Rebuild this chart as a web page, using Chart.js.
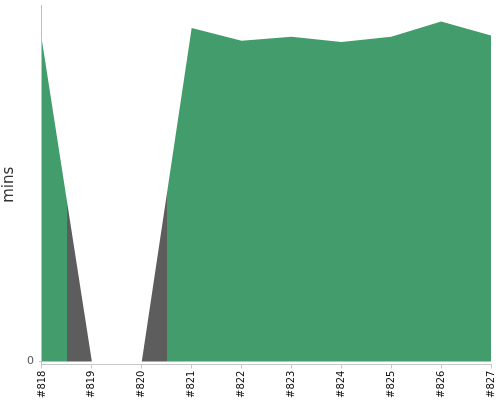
<!DOCTYPE html>
<html>
<head>
<meta charset="utf-8">
<script src="https://cdn.jsdelivr.net/npm/chart.js@4/dist/chart.umd.min.js"></script>
<style>
    html, body { margin: 0; padding: 0; background: #fff; }
    #wrap { width: 500px; height: 400px; position: relative; }
</style>
</head>
<body>
<div id="wrap"><canvas id="buildChart"></canvas></div>
<script>
// build numbers on the x axis
const builds = ['#818', '#819', '#820', '#821', '#822', '#823', '#824', '#825', '#826', '#827'];
// build duration in minutes
const durations = [12.6, 0, 0, 13.1, 12.6, 12.75, 12.55, 12.75, 13.35, 12.8];
// build result, colours the area around each point
const results = ['passed', 'failed', 'failed', 'passed', 'passed', 'passed', 'passed', 'passed', 'passed', 'passed'];
const yTicks = [0];

const colors = {
    passed: '#439c6c',
    failed: '#5d5d5d'
};

// horizontal gradient with hard stops, half way between builds
function areaFill(context) {
    const chart = context.chart;
    const area = chart.chartArea;
    const x = chart.scales.x;
    if (!area || !x) return colors.passed;
    const width = area.right - area.left;
    const grad = chart.ctx.createLinearGradient(area.left, 0, area.right, 0);
    const offset = (px) => Math.min(Math.max((px - area.left) / width, 0), 1);
    let last = 0;
    grad.addColorStop(0, colors[results[0]]);
    for (let i = 0; i < results.length - 1; i++) {
        const mid = (x.getPixelForValue(i) + x.getPixelForValue(i + 1)) / 2;
        const o = Math.max(offset(mid), last);
        grad.addColorStop(o, colors[results[i]]);
        grad.addColorStop(o, colors[results[i + 1]]);
        last = o;
    }
    grad.addColorStop(1, colors[results[results.length - 1]]);
    return grad;
}

const chart = new Chart(document.getElementById('buildChart'), {
    type: 'line',
    data: {
        labels: builds,
        datasets: [{
            label: 'mins',
            data: durations,
            fill: 'origin',
            backgroundColor: areaFill,
            borderWidth: 0,
            pointRadius: 0,
            tension: 0
        }]
    },
    options: {
        responsive: true,
        maintainAspectRatio: false,
        animation: false,
        layout: {
            padding: { top: 5, right: 9, bottom: 0, left: 0 }
        },
        plugins: {
            legend: { display: false },
            tooltip: { enabled: false }
        },
        scales: {
            x: {
                afterFit: (scale) => {
                    scale.paddingLeft = 0;
                    scale.paddingRight = 0;
                },
                grid: {
                    drawOnChartArea: false,
                    tickLength: 4,
                    color: '#c8c8c8'
                },
                border: { color: '#c8c8c8' },
                ticks: {
                    color: '#111',
                    minRotation: 90,
                    maxRotation: 90,
                    autoSkip: false,
                    padding: 2,
                    font: { family: 'DejaVu Sans', size: 10 }
                }
            },
            y: {
                min: -0.12,
                max: 14,
                afterBuildTicks: (scale) => {
                    scale.ticks = yTicks.map(v => ({ value: v }));
                },
                afterFit: (scale) => {
                    scale.paddingTop = 0;
                    scale.paddingBottom = 0;
                },
                grid: {
                    drawOnChartArea: false,
                    tickLength: 3,
                    color: '#c0c0c0'
                },
                border: { color: '#c0c0c0' },
                ticks: {
                    color: '#555',
                    padding: 5,
                    font: { family: 'DejaVu Sans', size: 11 }
                },
                title: {
                    display: true,
                    text: 'mins',
                    color: '#333',
                    padding: { top: 0, bottom: 4 },
                    font: { family: 'DejaVu Sans', size: 15 }
                }
            }
        }
    }
});
</script>
</body>
</html>
